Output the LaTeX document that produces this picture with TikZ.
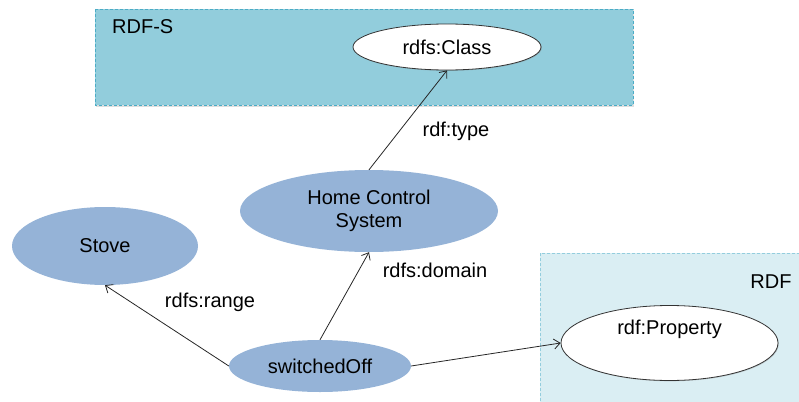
\documentclass[tikz,border=0pt]{standalone}
\usepackage{fontspec}
\setmainfont{Liberation Sans}
\usetikzlibrary{shapes.geometric,shadows,arrows.meta}
\definecolor{rdfsfill}{HTML}{92CDDC}
\definecolor{rdfsline}{HTML}{4BACC6}
\definecolor{rdffill}{HTML}{DAEEF3}
\definecolor{rdfline}{HTML}{93CDDD}
\definecolor{blueell}{HTML}{95B3D7}
\tikzset{
  txt/.style={font=\fontsize{20}{23}\selectfont, text=black, inner sep=0pt, align=center},
  region/.style={line width=0.8pt, dash pattern=on 3pt off 2pt,
     drop shadow={shadow xshift=1pt, shadow yshift=-1.5pt, opacity=0.25}},
  blueel/.style={ellipse, fill=blueell, draw=none, inner sep=0pt, txt},
  whiteel/.style={ellipse, fill=white, draw=black!80, line width=0.8pt, inner sep=0pt, txt,
     drop shadow={shadow xshift=0.8pt, shadow yshift=-0.8pt, opacity=0.35}},
  conn/.style={-{Straight Barb[length=6pt,width=10pt,line width=0.8pt]}, line width=0.8pt, draw=black!85},
}
\begin{document}
\begin{tikzpicture}[x=1pt,y=-1pt]
\useasboundingbox (0,0) rectangle (799,401);
% regions
\path[region, fill=rdfsfill, draw=rdfsline] (95,9) rectangle (633,105);
\path[region, fill=rdffill, draw=rdfline] (540,253) rectangle (803,405);
\node[txt, anchor=west] (lrdfs) at (112,27) {RDF-S};
\node[txt] (lrdf) at (771,282) {RDF};
% nodes
\node[whiteel, minimum width=188pt, minimum height=46pt] (cls) at (447,47) {rdfs:Class};
\node[whiteel, minimum width=217pt, minimum height=75pt] (prop) at (669.5,343) {};
\node[txt] (proptxt) at (669.5,329) {rdf:Property};
\node[blueel, minimum width=258pt, minimum height=82pt] (hcs) at (369,211) {Home Control\\System};
\node[blueel, minimum width=186pt, minimum height=78pt] (stove) at (105,246) {Stove};
\node[blueel, minimum width=182pt, minimum height=52pt] (swo) at (320,366) {switchedOff};
% connectors
\draw[conn] (hcs.north) -- (cls.south);
\draw[conn] (swo.north) -- (hcs.south);
\draw[conn] (swo.west) -- (stove.south);
\draw[conn] (swo.east) -- (prop.west);
% labels
\node[txt] (ltype) at (456,131) {rdf:type};
\node[txt] (ldomain) at (435,270) {rdfs:domain};
\node[txt] (lrange) at (210,302) {rdfs:range};
\end{tikzpicture}
\end{document}
